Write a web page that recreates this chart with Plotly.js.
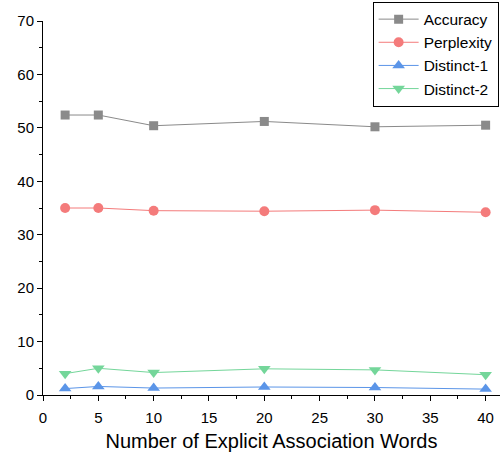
<!DOCTYPE html>
<html><head><meta charset="utf-8">
<script src="https://cdn.plot.ly/plotly-3.0.1.min.js"></script>
<style>body{margin:0;padding:0;background:#fff}#c{width:501px;height:458px}</style>
</head><body><div id="c"></div>
<script>
const xVals = [2, 5, 10, 20, 30, 40];
const accuracy = [52.4, 52.4, 50.4, 51.2, 50.2, 50.5];
const perplexity = [35.0, 35.0, 34.5, 34.4, 34.6, 34.2];
const distinct1 = [1.2, 1.6, 1.3, 1.5, 1.4, 1.1];
const distinct2 = [4.0, 5.0, 4.2, 4.9, 4.7, 3.8];
const names = ["Accuracy", "Perplexity", "Distinct-1", "Distinct-2"];
const colors = ["#8a8a8a", "#f47b7b", "#5b95e8", "#74d69a"];
const symbols = ["square", "circle", "triangle-up", "triangle-down"];
const sizes = [9, 10, 11, 11];
const series = [accuracy, perplexity, distinct1, distinct2];

const traces = series.map((s, i) => ({
  x: xVals, y: s, name: names[i], type: "scatter", mode: "lines+markers",
  line: {color: colors[i], width: 1},
  marker: {color: colors[i], symbol: symbols[i], size: sizes[i], line: {width: 0}}
}));

const layout = {
  width: 501, height: 458,
  margin: {l: 43, r: 1, t: 21, b: 63},
  paper_bgcolor: "#fff", plot_bgcolor: "#fff",
  font: {family: "Liberation Sans, Arial, sans-serif", size: 15, color: "#000"},
  showlegend: true,
  legend: {x: 0.997, y: 1.052, xanchor: "right", yanchor: "top", bordercolor: "#000", borderwidth: 1,
           bgcolor: "#fff", font: {size: 15.5}, tracegroupgap: 0, itemwidth: 40},
  xaxis: {range: [0, 41.3], tickvals: [0,5,10,15,20,25,30,35,40], showgrid: false, zeroline: false,
          showline: true, linecolor: "#000", linewidth: 1, ticks: "outside", ticklen: 5, tickcolor: "#000",
          ticklabelstandoff: 4,
          minor: {tickvals: [2.5,7.5,12.5,17.5,22.5,27.5,32.5,37.5], ticks: "outside", ticklen: 3, tickcolor: "#000"},
          title: {text: "Number of Explicit Association Words", font: {size: 20}, standoff: 8}},
  yaxis: {range: [0, 70], tickvals: [0,10,20,30,40,50,60,70], showgrid: false, zeroline: false,
          showline: true, linecolor: "#000", linewidth: 1, ticks: "outside", ticklen: 5, tickcolor: "#000",
          minor: {tickvals: [5,15,25,35,45,55,65], ticks: "outside", ticklen: 3, tickcolor: "#000"}}
};
Plotly.newPlot("c", traces, layout, {displayModeBar: false});
</script></body></html>
